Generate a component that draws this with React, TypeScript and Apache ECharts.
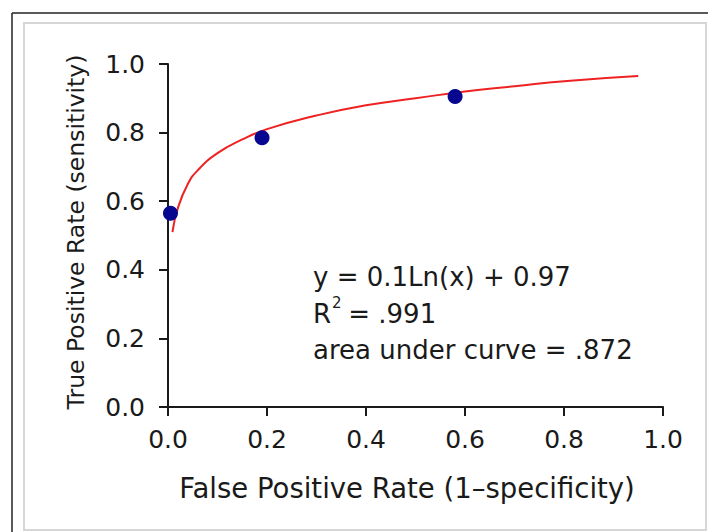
import React, { useEffect, useRef } from "react";
import * as echarts from "echarts";

const pointX = [0.005, 0.19, 0.58];
const pointY = [0.565, 0.785, 0.905];

const curveX = [0.009, 0.02, 0.04, 0.06, 0.1, 0.15, 0.2, 0.3, 0.4, 0.5, 0.6, 0.7, 0.8, 0.95];
const curveY = [0.51, 0.58, 0.65, 0.69, 0.74, 0.78, 0.81, 0.85, 0.88, 0.90, 0.92, 0.935, 0.95, 0.965];

const xTitle = "False Positive Rate (1\u2013specificity)";
const yTitle = "True Positive Rate (sensitivity)";
const eqLine = "y = 0.1Ln(x) + 0.97";
const r2Value = " = .991";
const aucLine = "area under curve = .872";

const FONT = "'DejaVu Sans', Arial, sans-serif";

export default function App() {
  const ref = useRef<HTMLDivElement>(null);
  useEffect(() => {
    if (!ref.current) return;
    const chart = echarts.init(ref.current, null, { renderer: "svg" });
    const axisCommon = {
      type: "value" as const,
      min: 0,
      max: 1,
      interval: 0.2,
      splitLine: { show: false },
      axisLine: { show: true, onZero: false, lineStyle: { color: "#1a1a1a", width: 2 } },
      axisTick: { show: true, inside: false, length: 9, lineStyle: { color: "#1a1a1a", width: 2 } },
      axisLabel: {
        color: "#1a1a1a",
        fontFamily: FONT,
        fontSize: 25,
        formatter: (v: number) => v.toFixed(1),
      },
    };
    chart.setOption({
      animation: false,
      backgroundColor: "#ffffff",
      grid: { left: 168, right: 45, top: 64, bottom: 125, containLabel: false },
      xAxis: { ...axisCommon, axisLabel: { ...axisCommon.axisLabel, margin: 20 } },
      yAxis: { ...axisCommon, axisLabel: { ...axisCommon.axisLabel, margin: 23 } },
      series: [
        {
          type: "line",
          data: curveX.map((x, i) => [x, curveY[i]]),
          smooth: true,
          showSymbol: false,
          lineStyle: { color: "#ee2222", width: 2 },
          z: 2,
        },
        {
          type: "scatter",
          data: pointX.map((x, i) => [x, pointY[i]]),
          symbol: "circle",
          symbolSize: 15,
          itemStyle: { color: "#07078f", opacity: 1 },
          z: 3,
        },
      ],
      graphic: [
        { type: "line", shape: { x1: 12, y1: 13, x2: 708, y2: 13 }, style: { stroke: "#222", lineWidth: 1.5 } },
        { type: "line", shape: { x1: 12, y1: 13, x2: 12, y2: 532 }, style: { stroke: "#222", lineWidth: 1.5 } },
        {
          type: "rect",
          shape: { x: 24, y: 23, width: 682, height: 507 },
          style: { fill: "none", stroke: "#d6d6d6", lineWidth: 2 },
        },
        {
          type: "text",
          x: 407,
          y: 488,
          style: { text: xTitle, font: `27.5px ${FONT}`, fill: "#1a1a1a", align: "center", verticalAlign: "middle" },
        },
        {
          type: "text",
          x: 76,
          y: 232,
          rotation: Math.PI / 2,
          style: { text: yTitle, font: `23.5px ${FONT}`, fill: "#1a1a1a", align: "center", verticalAlign: "middle" },
        },
        {
          type: "text",
          x: 313,
          y: 277,
          style: { text: eqLine, font: `26px ${FONT}`, fill: "#1a1a1a", align: "left", verticalAlign: "middle" },
        },
        {
          type: "text",
          x: 313,
          y: 314,
          style: { text: "R", font: `26px ${FONT}`, fill: "#1a1a1a", align: "left", verticalAlign: "middle" },
        },
        {
          type: "text",
          x: 332,
          y: 303,
          style: { text: "2", font: `15px ${FONT}`, fill: "#1a1a1a", align: "left", verticalAlign: "middle" },
        },
        {
          type: "text",
          x: 340,
          y: 314,
          style: { text: r2Value, font: `26px ${FONT}`, fill: "#1a1a1a", align: "left", verticalAlign: "middle" },
        },
        {
          type: "text",
          x: 313,
          y: 350,
          style: { text: aucLine, font: `26px ${FONT}`, fill: "#1a1a1a", align: "left", verticalAlign: "middle" },
        },
      ],
    });
    return () => chart.dispose();
  }, []);
  return (
    <div
      ref={ref}
      style={{ position: "absolute", left: 0, top: 0, width: 708, height: 532 }}
    />
  );
}
